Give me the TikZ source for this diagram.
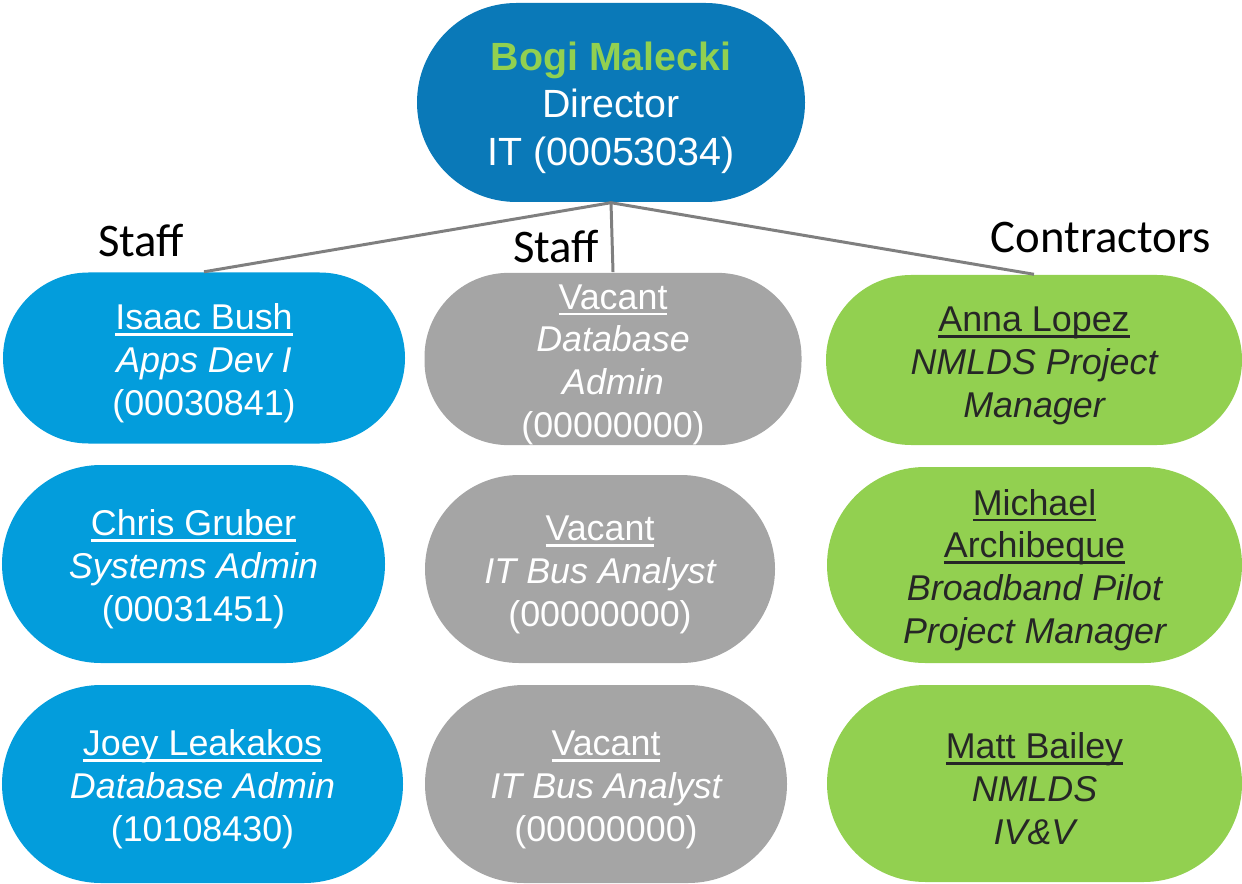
\documentclass[tikz,border=0pt]{standalone}
\usepackage{fontspec}
\setmainfont{Liberation Sans}
\newfontfamily\calibrifont{Carlito}
\usepackage{xcolor}
\definecolor{DirBlue}{HTML}{0A79B8}
\definecolor{StaffBlue}{HTML}{039DDC}
\definecolor{VacantGray}{HTML}{A5A5A5}
\definecolor{ContractGreen}{HTML}{92D050}
\definecolor{InkDark}{HTML}{262626}
\definecolor{LinkGray}{HTML}{7F7F7F}

% underlined name with a fixed rule position (strut pushes the text block down)
\newsavebox{\unamebox}
\newcommand{\uname}[1]{\rule{0pt}{10.3pt}\sbox{\unamebox}{#1}%
  \rlap{\rule[-1.8pt]{\wd\unamebox}{0.8pt}}\usebox{\unamebox}}

\begin{document}
\begin{tikzpicture}[
    pill/.style 2 args={rectangle, rounded corners=#2/2, minimum width=#1,
        minimum height=#2, inner sep=0pt, align=center,
        font=\fontsize{10.2}{12.2}\selectfont},
    staff/.style={fill=StaffBlue, text=white},
    vacant/.style={fill=VacantGray, text=white},
    contract/.style={fill=ContractGreen, text=InkDark},
    link/.style={draw=LinkGray, line width=0.85pt},
    group/.style={anchor=base, font=\calibrifont\fontsize{13.3}{15}\selectfont}
]
\useasboundingbox (0,0) rectangle (12.42,-8.84);

\node[pill={3.88cm}{1.99cm}, fill=DirBlue, text=white,
    font=\fontsize{11.2}{13.4}\selectfont] (director) at (6.11,-1.025)
    {\rule{0pt}{11.1pt}{\bfseries\color{ContractGreen}Bogi Malecki}\\Director\\IT (00053034)};

% first row
\node[pill={4.02cm}{1.71cm}, staff] (isaac) at (2.04,-3.58)
    {\uname{Isaac Bush}\\{\itshape Apps Dev I}\\(00030841)};
\node[pill={3.77cm}{1.68cm}, vacant] (dbadmin) at (6.13,-3.59)
    {\uname{Vacant}\\{\itshape Database}\\{\itshape Admin}\\(00000000)};
\node[pill={4.16cm}{1.70cm}, contract] (anna) at (10.34,-3.60)
    {\uname{Anna Lopez}\\{\itshape NMLDS Project}\\{\itshape Manager}};

% second row
\node[pill={3.83cm}{1.98cm}, staff] (chris) at (1.935,-5.64)
    {\uname{Chris Gruber}\\{\itshape Systems Admin}\\(00031451)};
\node[pill={3.50cm}{1.88cm}, vacant] (busone) at (6.00,-5.69)
    {\uname{Vacant}\\{\itshape IT Bus Analyst}\\(00000000)};
\node[pill={4.15cm}{1.96cm}, contract] (michael) at (10.345,-5.65)
    {\uname{Michael}\\\uname{Archibeque}\\{\itshape Broadband Pilot}\\{\itshape Project Manager}};

% third row
\node[pill={4.01cm}{1.98cm}, staff] (joey) at (2.025,-7.84)
    {\uname{Joey Leakakos}\\{\itshape Database Admin}\\(10108430)};
\node[pill={3.62cm}{1.98cm}, vacant] (bustwo) at (6.06,-7.84)
    {\uname{Vacant}\\{\itshape IT Bus Analyst}\\(00000000)};
\node[pill={4.15cm}{1.97cm}, contract] (matt) at (10.345,-7.835)
    {\uname{Matt Bailey}\\{\itshape NMLDS}\\{\itshape IV\&V}};

\draw[link] (director.south) -- (isaac.north);
\draw[link] (director.south) -- (dbadmin.north);
\draw[link] (director.south) -- (anna.north);

\node[group] (stafflbl) at (1.41,-2.57) {Staff};
\node[group] (vacantlbl) at (5.56,-2.63) {Staff};
\node[group] (contractlbl) at (11.01,-2.53) {Contractors};

\end{tikzpicture}
\end{document}
